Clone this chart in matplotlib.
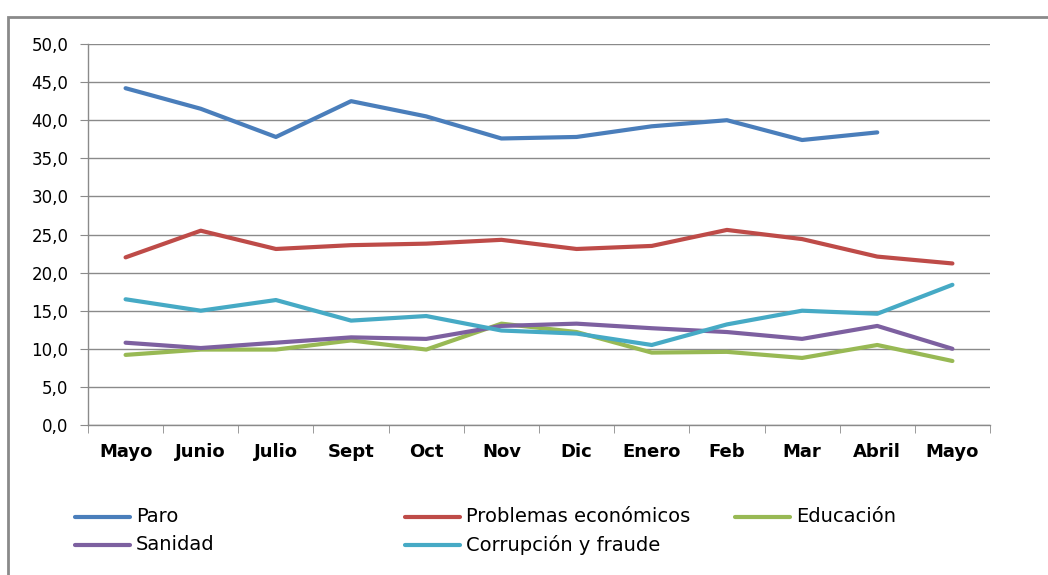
import numpy as np
import matplotlib.pyplot as plt
from matplotlib.lines import Line2D
from matplotlib.patches import Rectangle

# Datos
meses = ["Mayo", "Junio", "Julio", "Sept", "Oct", "Nov", "Dic",
         "Enero", "Feb", "Mar", "Abril", "Mayo"]
paro = [44.2, 41.5, 37.8, 42.5, 40.5, 37.6, 37.8, 39.2, 40.0, 37.4, 38.4, np.nan]
economicos = [22.0, 25.5, 23.1, 23.6, 23.8, 24.3, 23.1, 23.5, 25.6, 24.4, 22.1, 21.2]
educacion = [9.2, 9.9, 9.9, 11.1, 9.9, 13.3, 12.2, 9.5, 9.6, 8.8, 10.5, 8.4]
sanidad = [10.8, 10.1, 10.8, 11.5, 11.3, 13.0, 13.3, 12.7, 12.2, 11.3, 13.0, 10.0]
corrupcion = [16.5, 15.0, 16.4, 13.7, 14.3, 12.4, 12.0, 10.5, 13.2, 15.0, 14.6, 18.4]

series = [
    ("Paro", paro, "#4A7EBB"),
    ("Problemas económicos", economicos, "#BE4B48"),
    ("Educación", educacion, "#98B954"),
    ("Sanidad", sanidad, "#7D60A0"),
    ("Corrupción y fraude", corrupcion, "#46AAC5"),
]

W, H = 1048, 575
fig = plt.figure(figsize=(W / 100, H / 100), dpi=100)
ax = fig.add_axes([88 / W, 1 - 425 / H, (990 - 88) / W, (425 - 44) / H])

# marco exterior del grafico
fig.patches.append(Rectangle((8 / W, -0.1), 1.2, 1 - 17 / H + 0.1,
                             transform=fig.transFigure, fill=False,
                             edgecolor="#8A8A8A", linewidth=2))

x = np.arange(len(meses))
for nombre, valores, color in series:
    ax.plot(x, valores, color=color, linewidth=3, solid_capstyle="round")

ax.set_xlim(-0.5, len(meses) - 0.5)
ax.set_ylim(0, 50)
ax.set_yticks(np.arange(0, 51, 5))
ax.set_yticklabels([f"{v:.1f}".replace(".", ",") for v in np.arange(0, 51, 5)],
                   fontsize=12, family="DejaVu Sans")
ax.set_xticks(x)
ax.set_xticklabels(meses, fontsize=13, fontweight="bold")
ax.set_xticks(np.arange(-0.5, len(meses), 1), minor=True)
ax.tick_params(axis="x", which="major", length=0, pad=13)
ax.tick_params(axis="x", which="minor", length=6, color="#8A8A8A", direction="out")
ax.tick_params(axis="y", length=6, color="#8A8A8A", pad=8)

ax.grid(axis="y", color="#8A8A8A", linewidth=1)
ax.set_axisbelow(True)
for lado in ["top", "right"]:
    ax.spines[lado].set_visible(False)
for lado in ["left", "bottom"]:
    ax.spines[lado].set_color("#8A8A8A")
    ax.spines[lado].set_linewidth(1)

# leyenda
col_x = [75, 405, 735]
fila_y = [517, 545]
for i, (nombre, valores, color) in enumerate(series):
    cx = col_x[i % 3]
    cy = fila_y[i // 3]
    fig.add_artist(Line2D([cx / W, (cx + 55) / W], [1 - cy / H, 1 - cy / H],
                          color=color, linewidth=3, solid_capstyle="round",
                          transform=fig.transFigure))
    fig.text((cx + 61) / W, 1 - cy / H, nombre, fontsize=14, va="center",
             family="DejaVu Sans")

fig.savefig("out.png", dpi=100)
